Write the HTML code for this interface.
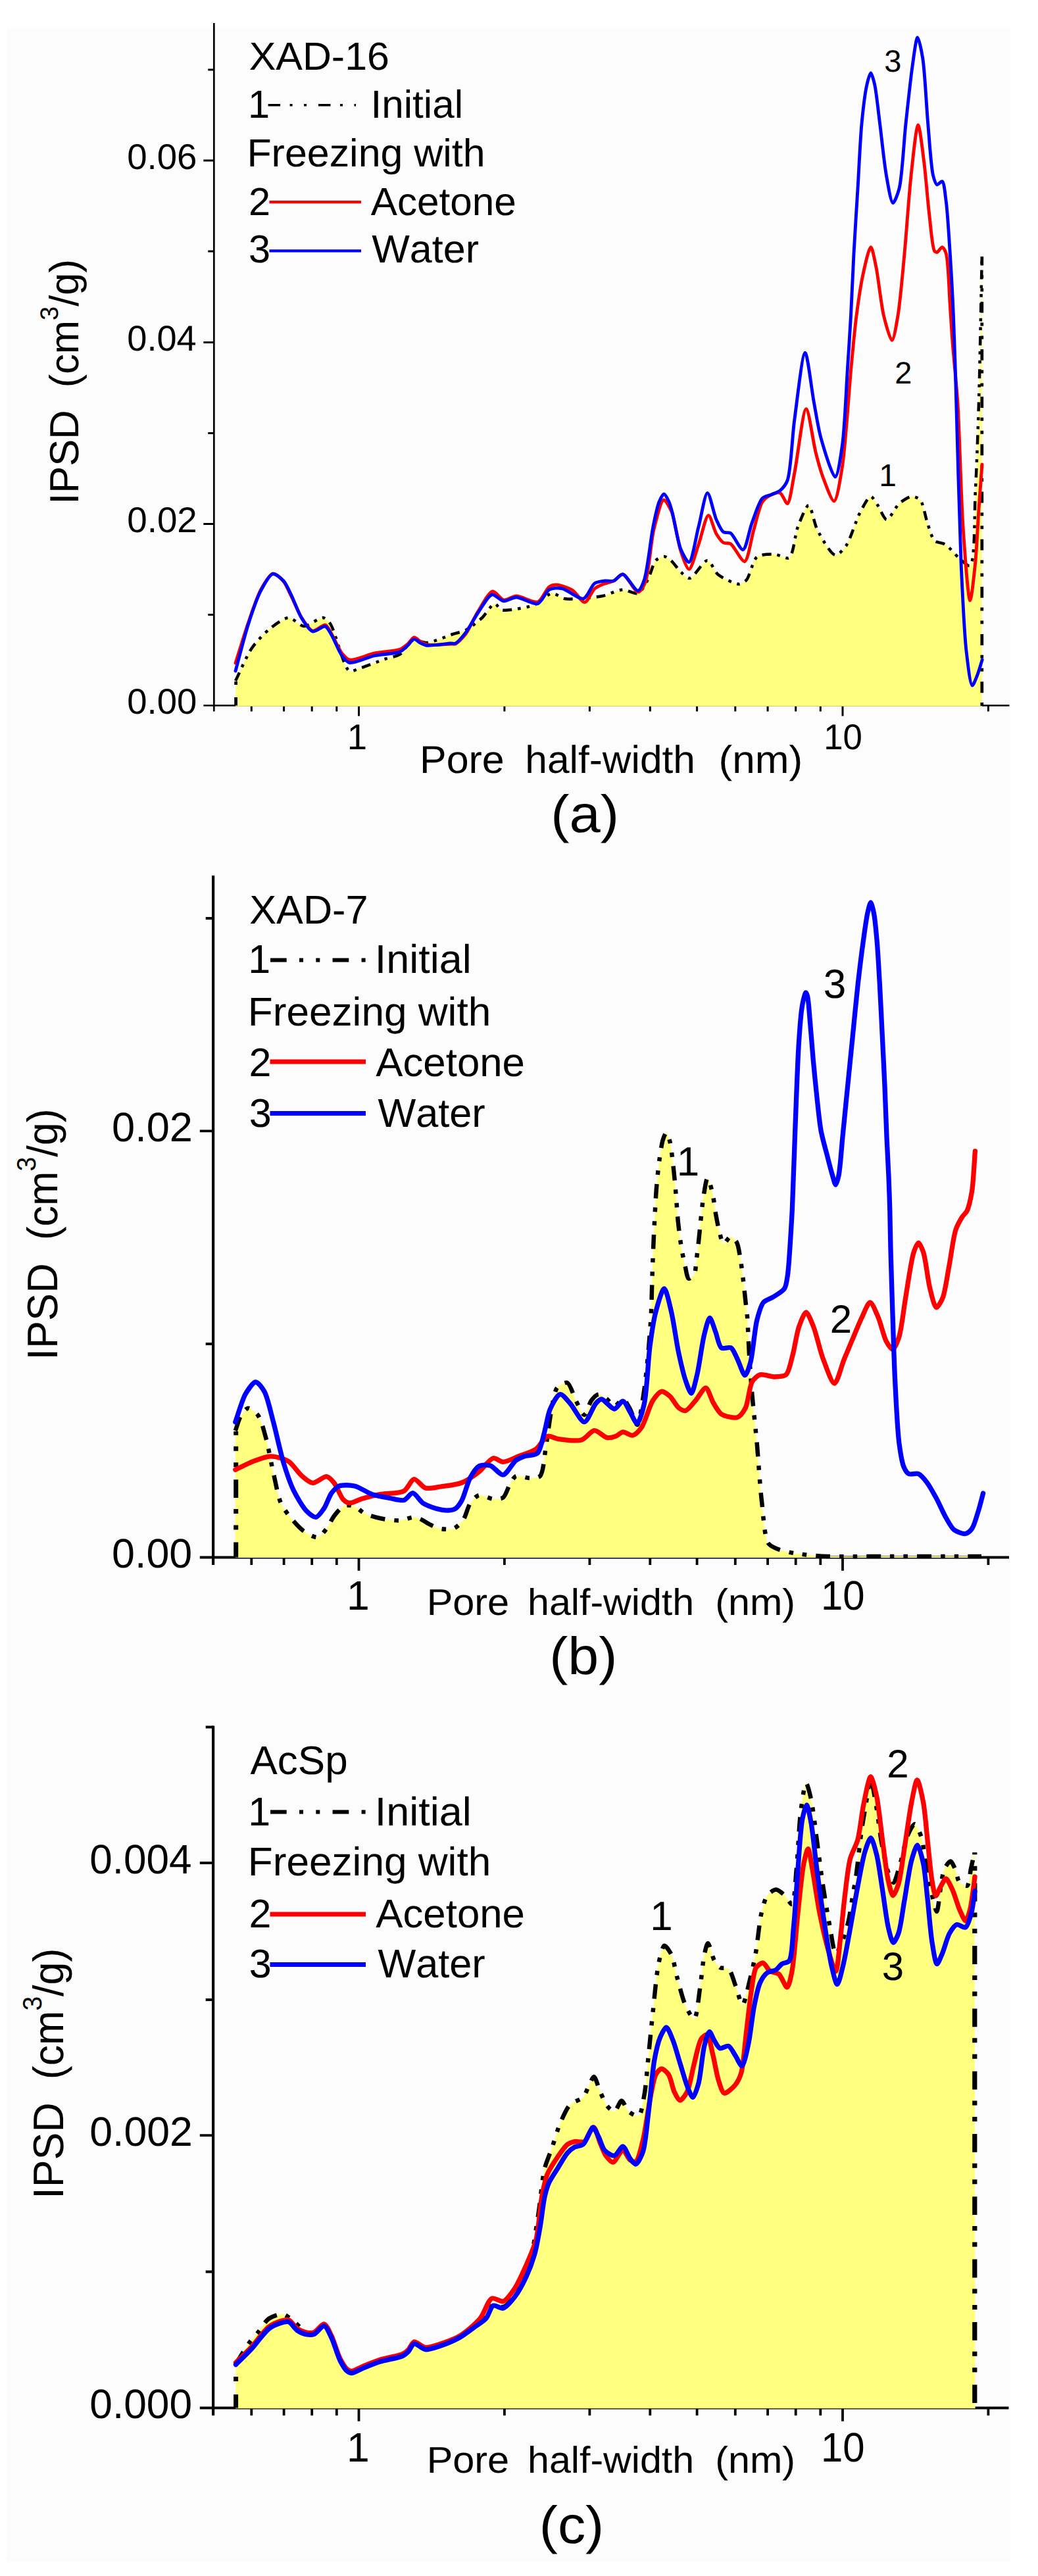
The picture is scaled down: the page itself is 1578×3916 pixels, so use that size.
<!DOCTYPE html>
<html lang="en"><head><meta charset="utf-8"><title>IPSD of polymer adsorbents</title>
<style>html,body{margin:0;padding:0;background:#fff}svg{display:block}text{font-kerning:none;text-rendering:geometricPrecision}</style></head>
<body>
<svg width="1578" height="3916" viewBox="0 0 1578 3916" font-family='"Liberation Sans", sans-serif' fill="#000">
<rect width="1578" height="3916" fill="#fff"/>
<rect x="10" y="43" width="1526" height="3851" fill="#fcfcfd"/>
<g stroke="#000" stroke-width="2.7" fill="none" stroke-linecap="butt">
<path d="M325.3 35.0 V1081.5"/>
<path d="M309.3 1072.5 H1534.5"/>
</g>
<path d="M309.3 796.5h16.0M309.3 520.5h16.0M309.3 244.0h16.0M316.3 934.5h9.0M316.3 658.5h9.0M316.3 382.0h9.0M316.3 106.0h9.0M545.5 1072.5v16.0M1281.0 1072.5v16.0M382.3 1072.5v9.0M431.6 1072.5v9.0M474.2 1072.5v9.0M511.8 1072.5v9.0M766.9 1072.5v9.0M896.4 1072.5v9.0M988.3 1072.5v9.0M1059.6 1072.5v9.0M1117.8 1072.5v9.0M1167.1 1072.5v9.0M1209.7 1072.5v9.0M1247.3 1072.5v9.0M1502.4 1072.5v9.0" stroke="#000" stroke-width="3.0" fill="none"/>
<path d="M358.0 1073.7 L358.0 1035.0C364.7 1021.7 375.3 996.1 383.0 985.0C389.5 975.7 402.2 962.3 410.0 956.0C417.2 950.2 431.7 939.1 439.0 939.0C445.5 938.9 455.4 951.7 462.0 952.0C469.2 952.3 485.3 938.2 491.0 939.0C494.8 939.5 499.0 943.9 502.0 948.0C509.1 957.7 522.3 1015.6 531.0 1020.0C535.0 1022.0 541.6 1017.6 546.6 1016.0C554.6 1013.5 576.0 1005.1 585.0 1002.0C591.9 999.7 602.5 998.2 608.0 994.7C614.0 990.9 621.5 975.6 627.5 973.5C632.9 971.6 643.3 977.6 650.0 977.0C659.0 976.2 679.9 966.8 688.5 964.0C694.6 962.0 702.7 960.7 708.0 958.0C714.5 954.6 727.0 944.5 733.0 939.0C738.7 933.7 747.7 917.8 752.0 917.6C755.0 917.5 758.8 925.7 762.0 927.0C765.4 928.3 772.2 927.5 777.0 927.0C784.4 926.2 803.6 923.1 812.0 919.6C820.0 916.3 832.3 902.6 839.0 902.0C844.4 901.5 852.6 908.9 858.0 910.0C863.7 911.2 874.2 910.4 881.0 910.0C889.4 909.5 907.1 907.9 916.0 906.0C924.5 904.2 939.0 896.7 946.7 896.4C953.3 896.2 964.9 903.9 970.0 902.0C975.2 900.0 981.5 887.3 985.0 881.0C988.8 874.1 992.6 856.5 997.0 852.0C999.9 848.9 1006.8 845.8 1010.0 846.0C1012.9 846.2 1017.3 849.7 1020.0 852.0C1023.9 855.3 1030.9 865.7 1035.0 869.5C1038.5 872.7 1044.5 879.4 1048.6 879.0C1054.8 878.5 1069.4 851.6 1075.5 852.0C1080.6 852.4 1085.9 868.9 1091.7 873.5C1098.4 878.8 1117.7 888.3 1124.0 888.0C1127.7 887.8 1132.2 884.6 1134.9 881.6C1139.7 876.3 1144.4 851.4 1151.0 846.5C1156.6 842.4 1171.2 842.4 1178.0 842.7C1184.1 843.0 1195.2 850.6 1199.6 848.0C1206.2 844.2 1208.6 811.9 1213.0 800.7C1216.8 791.0 1225.4 768.1 1229.3 768.3C1233.4 768.6 1237.7 796.3 1242.8 806.0C1248.3 816.5 1263.0 843.0 1269.7 843.8C1274.3 844.4 1282.0 835.5 1286.0 830.0C1292.5 821.1 1301.6 789.9 1307.5 779.0C1311.8 771.1 1319.7 755.0 1323.7 754.8C1326.8 754.7 1331.6 764.2 1334.5 768.3C1338.0 773.3 1343.9 789.7 1348.0 789.9C1352.5 790.1 1361.4 770.4 1366.9 765.6C1371.6 761.6 1381.0 755.1 1385.7 754.8C1389.5 754.5 1396.1 756.9 1399.0 760.0C1403.6 765.0 1406.9 786.6 1410.0 795.3C1412.7 803.0 1416.4 817.8 1420.8 822.0C1424.2 825.2 1432.7 824.9 1437.0 827.6C1442.8 831.2 1453.1 844.4 1458.6 849.0C1463.0 852.7 1471.4 861.6 1474.7 860.0C1482.7 856.2 1481.1 778.2 1482.8 746.7C1484.7 712.3 1486.8 652.2 1488.0 611.8C1489.6 560.0 1491.5 449.1 1492.8 390.0L1492.8 1073.7Z" fill="#ffff80" stroke="none"/>
<path d="M358.6 1072.5V1036.0" fill="none" stroke="#000" stroke-width="4.8" stroke-dasharray="12.5 19 5 100" stroke-dashoffset="0.0"/>
<path d="M1492.8 1073.0V390.0" fill="none" stroke="#000" stroke-width="4.7" stroke-dasharray="16.9 15.5 5 15 5 14.8" stroke-dashoffset="52.4"/>
<path d="M358.0 1035.0C364.7 1021.7 375.3 996.1 383.0 985.0C389.5 975.7 402.2 962.3 410.0 956.0C417.2 950.2 431.7 939.1 439.0 939.0C445.5 938.9 455.4 951.7 462.0 952.0C469.2 952.3 485.3 938.2 491.0 939.0C494.8 939.5 499.0 943.9 502.0 948.0C509.1 957.7 522.3 1015.6 531.0 1020.0C535.0 1022.0 541.6 1017.6 546.6 1016.0C554.6 1013.5 576.0 1005.1 585.0 1002.0C591.9 999.7 602.5 998.2 608.0 994.7C614.0 990.9 621.5 975.6 627.5 973.5C632.9 971.6 643.3 977.6 650.0 977.0C659.0 976.2 679.9 966.8 688.5 964.0C694.6 962.0 702.7 960.7 708.0 958.0C714.5 954.6 727.0 944.5 733.0 939.0C738.7 933.7 747.7 917.8 752.0 917.6C755.0 917.5 758.8 925.7 762.0 927.0C765.4 928.3 772.2 927.5 777.0 927.0C784.4 926.2 803.6 923.1 812.0 919.6C820.0 916.3 832.3 902.6 839.0 902.0C844.4 901.5 852.6 908.9 858.0 910.0C863.7 911.2 874.2 910.4 881.0 910.0C889.4 909.5 907.1 907.9 916.0 906.0C924.5 904.2 939.0 896.7 946.7 896.4C953.3 896.2 964.9 903.9 970.0 902.0C975.2 900.0 981.5 887.3 985.0 881.0C988.8 874.1 992.6 856.5 997.0 852.0C999.9 848.9 1006.8 845.8 1010.0 846.0C1012.9 846.2 1017.3 849.7 1020.0 852.0C1023.9 855.3 1030.9 865.7 1035.0 869.5C1038.5 872.7 1044.5 879.4 1048.6 879.0C1054.8 878.5 1069.4 851.6 1075.5 852.0C1080.6 852.4 1085.9 868.9 1091.7 873.5C1098.4 878.8 1117.7 888.3 1124.0 888.0C1127.7 887.8 1132.2 884.6 1134.9 881.6C1139.7 876.3 1144.4 851.4 1151.0 846.5C1156.6 842.4 1171.2 842.4 1178.0 842.7C1184.1 843.0 1195.2 850.6 1199.6 848.0C1206.2 844.2 1208.6 811.9 1213.0 800.7C1216.8 791.0 1225.4 768.1 1229.3 768.3C1233.4 768.6 1237.7 796.3 1242.8 806.0C1248.3 816.5 1263.0 843.0 1269.7 843.8C1274.3 844.4 1282.0 835.5 1286.0 830.0C1292.5 821.1 1301.6 789.9 1307.5 779.0C1311.8 771.1 1319.7 755.0 1323.7 754.8C1326.8 754.7 1331.6 764.2 1334.5 768.3C1338.0 773.3 1343.9 789.7 1348.0 789.9C1352.5 790.1 1361.4 770.4 1366.9 765.6C1371.6 761.6 1381.0 755.1 1385.7 754.8C1389.5 754.5 1396.1 756.9 1399.0 760.0C1403.6 765.0 1406.9 786.6 1410.0 795.3C1412.7 803.0 1416.4 817.8 1420.8 822.0C1424.2 825.2 1432.7 824.9 1437.0 827.6C1442.8 831.2 1453.1 844.4 1458.6 849.0C1463.0 852.7 1471.4 861.6 1474.7 860.0C1482.7 856.2 1481.1 778.2 1482.8 746.7C1484.7 712.3 1486.8 652.2 1488.0 611.8C1489.6 560.0 1491.5 449.1 1492.8 390.0" fill="none" stroke="#000" stroke-width="4.5" stroke-dasharray="14 9 4.6 9 4.6 9" stroke-linejoin="round"/>
<path d="M358.0 1008.0C363.1 992.0 371.7 963.3 377.0 948.0C381.9 933.8 390.4 907.9 396.3 897.0C400.8 888.8 409.6 872.8 414.8 872.0C419.0 871.4 427.4 879.8 431.0 884.0C435.0 888.6 439.4 899.6 442.6 906.0C446.5 913.7 453.3 930.6 458.0 938.0C462.1 944.5 470.0 957.8 475.3 959.0C479.9 960.1 490.7 948.9 494.6 950.0C498.1 951.0 501.5 959.5 504.2 964.0C508.0 970.3 515.3 987.5 519.7 993.0C522.7 996.7 526.9 1002.0 531.2 1003.0C538.2 1004.6 559.4 995.1 569.7 993.0C579.9 990.9 601.2 989.8 608.3 987.0C612.5 985.3 617.0 981.4 619.8 979.0C622.6 976.6 626.8 969.3 629.5 969.0C631.9 968.7 636.4 973.5 639.0 975.0C641.5 976.5 645.1 979.2 648.7 980.0C655.2 981.5 679.4 979.1 685.4 979.0C688.0 979.0 690.4 979.8 692.4 979.0C696.0 977.5 703.8 969.2 707.8 964.0C713.2 956.9 721.4 937.8 727.0 929.0C732.4 920.5 743.1 899.8 749.0 899.0C753.4 898.4 760.7 911.1 765.6 912.0C770.4 912.9 779.1 906.1 785.0 906.0C792.6 905.9 810.8 917.3 817.6 915.0C823.9 912.9 830.3 895.1 835.0 892.0C837.9 890.0 842.5 888.9 846.0 889.0C851.2 889.1 864.3 893.5 870.0 897.0C875.8 900.5 884.4 915.9 889.0 915.5C893.5 915.1 899.7 898.8 904.0 895.0C907.3 892.1 913.3 889.6 917.0 888.0C921.0 886.3 929.0 885.0 933.0 883.0C937.0 881.0 942.8 872.6 946.7 873.0C952.4 873.7 965.0 900.2 970.0 900.0C973.6 899.9 978.5 891.0 981.0 885.0C986.3 872.4 989.5 823.1 994.0 805.0C997.4 791.1 1004.6 760.6 1009.0 760.0C1012.0 759.6 1018.2 771.5 1021.0 778.0C1025.8 789.0 1030.7 825.3 1035.0 838.0C1038.0 846.9 1044.2 865.5 1047.5 865.4C1051.4 865.3 1058.2 838.1 1062.0 827.6C1066.1 816.3 1073.0 783.6 1077.0 783.4C1080.2 783.3 1085.4 805.6 1089.0 811.5C1091.7 816.0 1096.5 823.1 1099.8 825.0C1102.4 826.5 1107.6 824.9 1110.6 826.6C1115.9 829.7 1127.5 854.4 1132.0 853.5C1137.4 852.4 1142.0 818.3 1145.7 806.0C1149.2 794.2 1154.1 770.3 1159.0 763.0C1162.1 758.4 1168.8 753.8 1172.6 752.0C1176.0 750.4 1182.9 748.1 1186.0 749.4C1189.7 750.9 1194.5 766.1 1197.0 765.6C1200.9 764.9 1204.7 734.3 1207.7 719.7C1212.1 698.5 1220.8 621.7 1225.5 621.6C1229.4 621.5 1236.2 672.3 1240.0 687.4C1242.9 698.9 1247.2 715.2 1250.9 725.0C1254.7 735.0 1264.2 762.2 1268.0 761.8C1272.4 761.4 1277.6 726.8 1280.5 709.0C1285.3 679.2 1290.8 591.7 1294.0 558.0C1296.3 533.8 1299.4 499.7 1302.0 480.0C1304.3 462.3 1308.7 432.0 1312.0 417.0C1314.7 404.7 1321.0 375.6 1323.8 375.6C1326.2 375.6 1329.6 395.3 1331.7 405.0C1335.0 420.3 1339.5 463.6 1343.5 480.0C1346.4 491.8 1353.1 517.5 1356.0 517.4C1358.8 517.3 1362.9 492.3 1365.0 480.0C1368.3 460.6 1372.5 412.1 1375.0 385.5C1377.8 355.7 1381.9 295.2 1385.0 267.0C1387.5 244.2 1392.9 190.0 1395.7 190.0C1398.1 190.0 1402.7 230.5 1404.8 247.0C1407.3 266.3 1410.4 306.8 1412.7 326.0C1414.7 342.1 1417.2 376.8 1420.6 381.5C1421.5 382.8 1423.4 383.7 1424.5 383.5C1426.3 383.2 1430.6 375.4 1432.4 375.6C1434.3 375.8 1437.0 381.4 1438.3 385.5C1441.7 396.3 1442.9 445.3 1444.3 464.5C1445.4 480.6 1446.7 503.4 1448.0 520.0C1449.6 541.4 1454.0 582.9 1455.9 611.8C1458.6 653.2 1461.0 756.9 1464.0 800.7C1466.3 834.5 1471.8 912.8 1474.7 912.9C1476.8 912.9 1481.1 871.5 1482.8 854.6C1484.8 834.8 1486.6 794.3 1488.0 773.7C1489.3 754.8 1491.7 724.1 1493.0 706.0" fill="none" stroke="#ff0000" stroke-width="4.9" stroke-linejoin="round" stroke-linecap="round"/>
<path d="M358.0 1020.0C363.1 1001.4 371.5 967.5 377.0 950.4C381.8 935.4 390.4 909.6 396.3 898.4C400.8 889.9 409.5 873.5 414.8 872.5C418.9 871.7 427.4 879.1 431.0 883.0C435.0 887.3 439.4 897.6 442.6 904.0C446.6 912.0 453.2 930.9 458.0 938.8C462.1 945.5 470.0 958.6 475.3 960.0C479.9 961.2 490.7 951.1 494.6 952.3C498.1 953.3 501.5 961.3 504.2 965.8C508.1 972.2 515.3 990.7 519.7 996.6C522.7 1000.6 526.8 1006.3 531.2 1007.4C538.2 1009.1 559.4 998.8 569.7 996.6C579.9 994.4 601.3 993.9 608.3 990.8C612.6 988.9 616.9 983.8 619.8 981.2C622.6 978.7 626.8 971.9 629.5 971.6C631.9 971.3 636.4 976.1 639.0 977.4C641.5 978.7 645.2 980.7 648.7 981.2C655.3 982.1 679.4 978.3 685.4 978.0C688.0 977.9 690.4 978.9 692.4 978.0C696.0 976.5 703.7 967.2 707.8 962.0C713.0 955.3 721.5 938.8 727.0 931.0C732.3 923.4 742.1 905.2 748.0 904.0C752.5 903.1 760.7 913.3 765.6 913.8C770.5 914.3 779.2 908.0 785.0 908.0C792.6 908.0 810.8 919.7 817.6 917.6C823.7 915.7 829.6 899.3 835.0 896.4C839.5 894.0 848.4 893.5 854.0 894.5C861.8 895.8 880.2 911.7 887.0 910.0C893.1 908.5 898.9 890.2 904.0 886.8C907.8 884.2 915.7 883.5 919.7 883.0C923.4 882.6 929.6 884.1 933.0 883.0C936.8 881.7 942.7 872.6 946.7 873.0C952.3 873.5 965.4 898.6 970.0 898.0C973.5 897.6 977.2 887.5 979.5 881.0C984.2 867.7 989.4 817.4 993.0 800.0C995.4 788.2 999.1 770.0 1002.0 763.0C1003.8 758.7 1007.5 751.0 1009.5 751.0C1011.5 751.0 1015.4 759.5 1017.0 763.0C1018.8 766.9 1020.5 773.4 1022.0 779.0C1024.8 789.4 1030.4 824.2 1035.0 835.0C1037.9 841.9 1044.5 855.1 1047.5 854.6C1052.2 853.9 1058.2 814.9 1062.0 800.7C1065.7 786.9 1071.7 749.5 1075.5 749.4C1078.9 749.3 1085.1 781.3 1089.0 789.9C1091.8 796.1 1096.2 806.4 1099.8 808.8C1102.3 810.5 1107.7 808.7 1110.6 810.4C1115.6 813.4 1125.4 836.4 1129.5 835.7C1134.3 834.9 1139.0 805.8 1143.0 795.3C1146.9 785.0 1153.6 762.8 1159.0 757.5C1162.2 754.3 1169.0 753.6 1172.6 752.0C1176.2 750.4 1182.9 748.2 1186.0 745.6C1189.5 742.7 1194.6 736.7 1197.0 730.5C1202.4 716.7 1204.3 663.9 1207.7 638.8C1211.4 612.2 1219.7 536.3 1223.9 536.3C1227.6 536.3 1233.9 593.4 1237.4 611.8C1240.3 627.4 1243.9 651.2 1248.0 665.8C1252.4 681.4 1265.3 725.3 1269.7 725.0C1273.6 724.7 1278.2 692.5 1280.5 676.6C1284.1 652.0 1286.7 586.2 1288.6 557.9C1290.1 534.9 1292.3 501.8 1293.5 480.0C1294.8 456.0 1296.6 411.0 1298.0 385.5C1299.4 359.4 1302.4 313.0 1304.0 286.7C1305.6 260.4 1307.8 211.0 1310.0 188.0C1311.7 170.1 1315.3 139.8 1317.9 128.7C1319.3 122.5 1322.2 111.0 1323.8 111.0C1325.4 111.0 1328.3 122.5 1329.7 128.7C1332.3 139.8 1335.4 171.1 1337.6 188.0C1340.1 207.6 1344.3 249.4 1347.5 267.0C1349.8 279.9 1354.3 308.2 1357.4 308.5C1359.7 308.7 1364.9 294.8 1367.0 286.7C1371.4 270.1 1374.2 213.5 1377.0 188.0C1379.6 164.1 1384.2 120.3 1387.0 101.0C1389.0 87.2 1392.6 57.0 1394.9 56.9C1396.9 56.8 1401.0 78.0 1402.8 89.0C1405.9 108.1 1408.5 163.1 1410.7 188.0C1412.7 210.3 1415.4 254.7 1418.6 267.0C1420.0 272.3 1422.3 280.1 1424.5 280.8C1426.2 281.3 1430.7 275.0 1432.4 275.7C1435.4 277.0 1436.9 296.3 1438.3 306.5C1440.5 322.6 1442.9 363.5 1444.3 385.5C1445.9 409.6 1448.3 454.1 1449.4 480.0C1450.6 507.3 1451.9 550.5 1453.0 585.0C1454.8 640.3 1458.4 795.0 1461.0 854.6C1462.9 896.8 1465.8 961.9 1469.0 989.5C1471.0 1006.8 1474.9 1041.5 1478.0 1042.0C1479.8 1042.3 1483.6 1031.5 1485.5 1027.0C1487.8 1021.4 1491.1 1009.4 1493.2 1003.0" fill="none" stroke="#0000ff" stroke-width="4.9" stroke-linejoin="round" stroke-linecap="round"/>
<text transform="translate(193.27 256.50) scale(1.0005 1)" font-size="54.5">0.06</text>
<text transform="translate(193.29 533.00) scale(0.9927 1)" font-size="54.5">0.04</text>
<text transform="translate(193.26 809.00) scale(1.0039 1)" font-size="54.5">0.02</text>
<text transform="translate(193.28 1085.00) scale(0.9979 1)" font-size="54.5">0.00</text>
<text transform="translate(527.85 1139.00) scale(1.0000 1)" font-size="54.5">1</text>
<text transform="translate(1252.18 1139.00) scale(0.9680 1)" font-size="54.5">10</text>
<text transform="translate(638.00 1174.50) scale(1.0327 1)" font-size="59.0">Pore</text>
<text transform="translate(798.31 1174.50) scale(1.0242 1)" font-size="59.0">half-width</text>
<text transform="translate(1092.55 1174.50) scale(1.0523 1)" font-size="59.0">(nm)</text>
<text transform="translate(837.23 1264.80) scale(1.0620 1)" font-size="80.0">(a)</text>
<text transform="translate(119.10 766.87) rotate(-90) scale(0.9910 1)" font-size="62.0" xml:space="preserve" style="white-space:pre">IPSD  (cm<tspan font-size="38.4" dy="-31.0">3</tspan><tspan dy="31.0">/g)</tspan></text>
<text transform="translate(378.63 105.60) scale(1.0236 1)" font-size="59.5">XAD-16</text>
<text transform="translate(377.09 179.00) scale(1.0000 1)" font-size="59.5">1</text>
<path d="M407.6 159.7H541" stroke="#000" stroke-width="3.4" stroke-dasharray="18.5 14.5 4 17.5 4 17.9" fill="none"/>
<text transform="translate(563.44 179.00) scale(1.0121 1)" font-size="59.5">Initial</text>
<text transform="translate(375.40 253.00) scale(1.0238 1)" font-size="59.5">Freezing with</text>
<text transform="translate(377.90 326.70) scale(1.0000 1)" font-size="59.5">2</text>
<path d="M409.4 307.2H549" stroke="#f00" stroke-width="4.2"/>
<text transform="translate(563.78 326.70) scale(1.0127 1)" font-size="59.5">Acetone</text>
<text transform="translate(378.08 399.40) scale(1.0000 1)" font-size="59.5">3</text>
<path d="M409.4 381.4H549" stroke="#00f" stroke-width="4.2"/>
<text transform="translate(565.23 399.40) scale(1.0258 1)" font-size="59.5">Water</text>
<text transform="translate(1344.17 109.00) scale(1.0000 1)" font-size="47.0">3</text>
<text transform="translate(1360.13 583.20) scale(1.0000 1)" font-size="47.0">2</text>
<text transform="translate(1336.30 738.60) scale(1.0000 1)" font-size="48.0">1</text>
<g stroke="#000" stroke-width="4.2" fill="none" stroke-linecap="butt">
<path d="M324.1 1331.0 V2378.9"/>
<path d="M303.8 2367.5 H1534.0"/>
</g>
<path d="M303.8 1719.3h20.3M312.7 2043.0h11.4M312.7 1396.0h11.4M545.5 2367.5v20.3M1281.0 2367.5v20.3M382.3 2367.5v11.4M431.6 2367.5v11.4M474.2 2367.5v11.4M511.8 2367.5v11.4M766.9 2367.5v11.4M896.4 2367.5v11.4M988.3 2367.5v11.4M1059.6 2367.5v11.4M1117.8 2367.5v11.4M1167.1 2367.5v11.4M1209.7 2367.5v11.4M1247.3 2367.5v11.4M1502.4 2367.5v11.4" stroke="#000" stroke-width="3.8" fill="none"/>
<path d="M357.5 2367.9 L357.8 2175.0C359.9 2169.4 362.7 2158.8 365.5 2154.0C368.0 2149.8 373.5 2141.1 377.0 2140.7C380.7 2140.3 389.2 2147.5 392.5 2152.0C397.0 2158.1 401.2 2175.0 404.0 2185.0C407.5 2197.5 412.4 2225.2 415.6 2239.0C418.6 2251.8 422.6 2275.1 427.0 2285.0C430.4 2292.5 437.9 2302.3 442.6 2308.0C447.2 2313.7 456.1 2323.7 461.8 2327.6C467.0 2331.2 478.2 2337.9 483.0 2337.0C487.3 2336.2 493.3 2327.8 496.5 2323.7C500.0 2319.2 504.4 2309.1 508.0 2304.4C511.6 2299.8 518.9 2290.7 523.5 2289.0C527.3 2287.5 535.1 2288.4 539.0 2289.8C543.3 2291.3 549.3 2298.3 554.0 2300.6C559.4 2303.3 570.8 2306.6 577.5 2308.0C585.0 2309.6 600.4 2311.8 608.0 2311.4C614.7 2311.1 625.3 2305.6 631.4 2306.4C637.7 2307.2 649.2 2315.5 654.5 2318.0C658.3 2319.8 663.1 2322.5 667.0 2323.4C672.0 2324.5 684.0 2325.8 689.0 2324.0C693.8 2322.3 700.7 2315.5 704.0 2311.0C707.9 2305.6 711.3 2290.3 715.0 2285.0C718.0 2280.8 723.7 2274.1 728.0 2273.0C732.8 2271.8 744.4 2278.4 749.7 2278.7C754.1 2279.0 761.6 2278.9 764.9 2276.6C769.0 2273.7 772.7 2259.7 775.7 2255.0C778.0 2251.4 781.1 2245.3 784.4 2244.0C788.6 2242.3 800.8 2247.2 806.0 2247.0C810.4 2246.9 818.0 2247.1 821.0 2244.0C826.3 2238.7 827.8 2211.3 830.0 2198.5C832.5 2184.3 835.9 2154.9 838.6 2142.0C840.6 2132.1 842.7 2115.0 847.0 2109.7C850.1 2105.9 858.9 2100.8 862.4 2102.0C867.0 2103.6 871.8 2122.3 875.4 2129.0C878.7 2135.2 885.2 2151.0 888.4 2150.9C891.5 2150.8 895.6 2133.4 899.0 2129.0C901.6 2125.6 906.8 2119.9 910.0 2119.6C913.2 2119.3 919.8 2124.6 923.0 2127.0C926.2 2129.5 930.9 2137.8 934.0 2137.9C937.3 2138.0 943.9 2126.6 947.0 2127.0C950.3 2127.4 955.1 2137.4 957.8 2142.0C961.0 2147.5 966.1 2166.3 968.6 2166.0C972.3 2165.6 977.2 2126.8 979.5 2111.8C981.9 2095.9 984.6 2065.6 986.0 2050.0C987.3 2036.0 988.9 2014.3 989.7 2000.0C990.6 1983.4 991.2 1949.8 991.8 1933.0C992.3 1918.0 993.2 1895.3 993.9 1880.0C994.8 1861.9 996.6 1823.0 998.0 1806.0C999.0 1793.1 1001.0 1774.0 1002.4 1763.6C1003.6 1754.8 1005.8 1739.0 1007.7 1733.0C1008.9 1729.2 1011.6 1722.0 1013.0 1722.0C1014.5 1722.0 1017.1 1730.8 1018.3 1735.0C1020.0 1741.1 1021.5 1755.2 1022.5 1763.6C1023.8 1773.8 1025.7 1794.1 1026.8 1806.0C1028.0 1819.3 1029.6 1845.9 1031.0 1859.0C1032.2 1870.4 1034.7 1889.5 1036.3 1899.0C1037.6 1906.6 1040.1 1918.4 1041.6 1924.7C1042.9 1930.2 1044.5 1942.9 1046.9 1943.7C1048.6 1944.3 1053.8 1940.0 1055.4 1937.4C1057.7 1933.6 1057.8 1921.9 1058.6 1916.0C1059.5 1909.6 1060.9 1897.9 1061.7 1890.8C1062.6 1882.8 1064.0 1867.9 1064.9 1859.0C1065.9 1849.3 1067.7 1830.3 1069.2 1820.8C1070.6 1812.3 1073.5 1791.1 1075.5 1791.0C1077.2 1790.9 1081.3 1805.9 1082.9 1812.3C1084.9 1820.2 1086.7 1837.6 1088.2 1846.0C1089.5 1853.3 1091.8 1865.4 1093.5 1871.7C1095.0 1877.2 1097.4 1890.2 1099.9 1890.8C1102.1 1891.3 1107.7 1880.1 1110.5 1880.0C1113.1 1879.9 1118.1 1885.3 1120.0 1888.6C1122.6 1893.0 1124.1 1905.3 1125.3 1912.0C1126.7 1919.8 1128.5 1934.8 1129.6 1943.7C1130.8 1953.4 1132.9 1973.7 1133.8 1982.0C1134.4 1987.7 1135.4 1993.8 1135.9 2000.0C1136.9 2011.3 1138.0 2044.0 1139.0 2060.0C1140.0 2076.0 1142.0 2103.2 1143.4 2120.0C1145.0 2138.7 1148.8 2173.4 1150.7 2194.0C1152.7 2216.4 1155.4 2260.4 1158.0 2282.0C1160.2 2300.5 1162.0 2337.1 1167.9 2346.0C1171.0 2350.6 1178.1 2353.1 1182.7 2355.0C1188.2 2357.3 1199.7 2359.7 1207.0 2361.0C1216.2 2362.7 1233.5 2364.7 1246.5 2365.5C1267.6 2366.7 1320.2 2365.9 1350.0 2366.0C1384.9 2366.1 1454.1 2366.0 1492.0 2366.0L1492.0 2367.9Z" fill="#ffff80" stroke="none"/>
<path d="M358.7 2367.5V2176.0" fill="none" stroke="#000" stroke-width="7.0" stroke-dasharray="27.8 19 7 17.5 7 17" stroke-dashoffset="4.8"/>
<path d="M357.8 2175.0C359.9 2169.4 362.7 2158.8 365.5 2154.0C368.0 2149.8 373.5 2141.1 377.0 2140.7C380.7 2140.3 389.2 2147.5 392.5 2152.0C397.0 2158.1 401.2 2175.0 404.0 2185.0C407.5 2197.5 412.4 2225.2 415.6 2239.0C418.6 2251.8 422.6 2275.1 427.0 2285.0C430.4 2292.5 437.9 2302.3 442.6 2308.0C447.2 2313.7 456.1 2323.7 461.8 2327.6C467.0 2331.2 478.2 2337.9 483.0 2337.0C487.3 2336.2 493.3 2327.8 496.5 2323.7C500.0 2319.2 504.4 2309.1 508.0 2304.4C511.6 2299.8 518.9 2290.7 523.5 2289.0C527.3 2287.5 535.1 2288.4 539.0 2289.8C543.3 2291.3 549.3 2298.3 554.0 2300.6C559.4 2303.3 570.8 2306.6 577.5 2308.0C585.0 2309.6 600.4 2311.8 608.0 2311.4C614.7 2311.1 625.3 2305.6 631.4 2306.4C637.7 2307.2 649.2 2315.5 654.5 2318.0C658.3 2319.8 663.1 2322.5 667.0 2323.4C672.0 2324.5 684.0 2325.8 689.0 2324.0C693.8 2322.3 700.7 2315.5 704.0 2311.0C707.9 2305.6 711.3 2290.3 715.0 2285.0C718.0 2280.8 723.7 2274.1 728.0 2273.0C732.8 2271.8 744.4 2278.4 749.7 2278.7C754.1 2279.0 761.6 2278.9 764.9 2276.6C769.0 2273.7 772.7 2259.7 775.7 2255.0C778.0 2251.4 781.1 2245.3 784.4 2244.0C788.6 2242.3 800.8 2247.2 806.0 2247.0C810.4 2246.9 818.0 2247.1 821.0 2244.0C826.3 2238.7 827.8 2211.3 830.0 2198.5C832.5 2184.3 835.9 2154.9 838.6 2142.0C840.6 2132.1 842.7 2115.0 847.0 2109.7C850.1 2105.9 858.9 2100.8 862.4 2102.0C867.0 2103.6 871.8 2122.3 875.4 2129.0C878.7 2135.2 885.2 2151.0 888.4 2150.9C891.5 2150.8 895.6 2133.4 899.0 2129.0C901.6 2125.6 906.8 2119.9 910.0 2119.6C913.2 2119.3 919.8 2124.6 923.0 2127.0C926.2 2129.5 930.9 2137.8 934.0 2137.9C937.3 2138.0 943.9 2126.6 947.0 2127.0C950.3 2127.4 955.1 2137.4 957.8 2142.0C961.0 2147.5 966.1 2166.3 968.6 2166.0C972.3 2165.6 977.2 2126.8 979.5 2111.8C981.9 2095.9 984.6 2065.6 986.0 2050.0C987.3 2036.0 988.9 2014.3 989.7 2000.0C990.6 1983.4 991.2 1949.8 991.8 1933.0C992.3 1918.0 993.2 1895.3 993.9 1880.0C994.8 1861.9 996.6 1823.0 998.0 1806.0C999.0 1793.1 1001.0 1774.0 1002.4 1763.6C1003.6 1754.8 1005.8 1739.0 1007.7 1733.0C1008.9 1729.2 1011.6 1722.0 1013.0 1722.0C1014.5 1722.0 1017.1 1730.8 1018.3 1735.0C1020.0 1741.1 1021.5 1755.2 1022.5 1763.6C1023.8 1773.8 1025.7 1794.1 1026.8 1806.0C1028.0 1819.3 1029.6 1845.9 1031.0 1859.0C1032.2 1870.4 1034.7 1889.5 1036.3 1899.0C1037.6 1906.6 1040.1 1918.4 1041.6 1924.7C1042.9 1930.2 1044.5 1942.9 1046.9 1943.7C1048.6 1944.3 1053.8 1940.0 1055.4 1937.4C1057.7 1933.6 1057.8 1921.9 1058.6 1916.0C1059.5 1909.6 1060.9 1897.9 1061.7 1890.8C1062.6 1882.8 1064.0 1867.9 1064.9 1859.0C1065.9 1849.3 1067.7 1830.3 1069.2 1820.8C1070.6 1812.3 1073.5 1791.1 1075.5 1791.0C1077.2 1790.9 1081.3 1805.9 1082.9 1812.3C1084.9 1820.2 1086.7 1837.6 1088.2 1846.0C1089.5 1853.3 1091.8 1865.4 1093.5 1871.7C1095.0 1877.2 1097.4 1890.2 1099.9 1890.8C1102.1 1891.3 1107.7 1880.1 1110.5 1880.0C1113.1 1879.9 1118.1 1885.3 1120.0 1888.6C1122.6 1893.0 1124.1 1905.3 1125.3 1912.0C1126.7 1919.8 1128.5 1934.8 1129.6 1943.7C1130.8 1953.4 1132.9 1973.7 1133.8 1982.0C1134.4 1987.7 1135.4 1993.8 1135.9 2000.0C1136.9 2011.3 1138.0 2044.0 1139.0 2060.0C1140.0 2076.0 1142.0 2103.2 1143.4 2120.0C1145.0 2138.7 1148.8 2173.4 1150.7 2194.0C1152.7 2216.4 1155.4 2260.4 1158.0 2282.0C1160.2 2300.5 1162.0 2337.1 1167.9 2346.0C1171.0 2350.6 1178.1 2353.1 1182.7 2355.0C1188.2 2357.3 1199.7 2359.7 1207.0 2361.0C1216.2 2362.7 1233.5 2364.7 1246.5 2365.5C1267.6 2366.7 1320.2 2365.9 1350.0 2366.0C1384.9 2366.1 1454.1 2366.0 1492.0 2366.0" fill="none" stroke="#000" stroke-width="6.5" stroke-dasharray="22 14 6.5 14 6.5 14" stroke-linejoin="round"/>
<path d="M357.8 2234.3C365.0 2230.9 377.5 2224.3 384.8 2221.6C391.9 2218.9 404.6 2213.9 411.8 2213.9C419.0 2213.9 432.6 2217.8 438.7 2221.6C444.9 2225.5 452.7 2238.3 458.0 2242.8C462.5 2246.7 470.3 2253.9 475.3 2254.3C480.6 2254.7 491.9 2244.1 496.5 2244.7C500.2 2245.2 505.1 2250.8 508.0 2254.3C512.0 2259.2 517.7 2275.4 521.6 2279.4C524.0 2281.9 528.1 2284.7 531.2 2285.0C535.4 2285.4 544.9 2279.9 550.5 2278.2C557.1 2276.3 569.7 2273.2 577.5 2271.7C586.5 2270.0 606.8 2270.6 614.0 2266.7C619.8 2263.5 625.0 2249.1 629.5 2248.6C633.8 2248.2 641.5 2260.4 646.8 2262.0C652.3 2263.6 663.3 2260.9 670.0 2260.0C677.9 2258.9 694.2 2257.1 702.0 2254.0C709.6 2251.0 721.6 2242.6 728.0 2237.6C734.3 2232.7 744.1 2218.0 749.7 2216.8C753.8 2215.9 760.4 2222.4 764.9 2222.4C770.5 2222.4 782.2 2216.2 788.7 2213.7C795.5 2211.1 808.9 2207.2 814.7 2203.0C820.3 2199.0 826.8 2185.0 832.0 2183.4C836.3 2182.1 843.9 2186.9 849.4 2187.7C857.0 2188.8 876.4 2191.3 884.0 2189.0C890.4 2187.1 898.3 2175.0 903.6 2174.7C908.7 2174.4 918.2 2184.7 923.0 2185.5C926.7 2186.1 932.8 2184.6 936.0 2183.4C939.2 2182.3 943.8 2177.2 947.0 2176.9C950.6 2176.5 958.3 2182.7 962.0 2182.0C965.8 2181.2 971.7 2174.9 975.0 2170.4C980.2 2163.1 987.4 2136.8 992.5 2129.0C995.8 2124.0 1001.8 2115.8 1005.5 2115.3C1008.8 2114.8 1015.3 2119.9 1018.5 2122.7C1022.4 2126.1 1027.8 2137.1 1031.5 2140.0C1034.2 2142.1 1039.4 2145.0 1042.3 2144.4C1046.3 2143.6 1053.5 2133.4 1057.5 2129.0C1061.7 2124.3 1069.4 2109.6 1073.0 2110.0C1076.6 2110.4 1081.1 2127.0 1084.4 2132.5C1087.4 2137.5 1092.1 2146.7 1096.7 2149.7C1101.7 2152.9 1116.0 2156.3 1121.0 2154.6C1125.5 2153.1 1130.8 2145.2 1133.5 2139.9C1137.4 2132.3 1139.2 2107.4 1143.4 2100.6C1146.0 2096.3 1151.5 2091.0 1155.6 2089.8C1160.4 2088.4 1172.2 2093.1 1177.7 2093.0C1182.6 2092.9 1191.5 2092.8 1195.0 2089.8C1199.6 2085.8 1202.4 2069.6 1204.8 2061.0C1207.7 2050.6 1211.2 2026.6 1214.6 2017.0C1217.1 2010.0 1222.5 1995.0 1225.4 1995.0C1228.4 1995.0 1233.8 2009.8 1236.7 2017.0C1240.9 2027.3 1246.8 2054.0 1251.4 2066.0C1255.5 2076.7 1264.3 2103.1 1268.6 2103.0C1272.8 2102.9 1279.6 2075.3 1283.4 2066.0C1286.8 2057.7 1292.3 2044.8 1295.7 2036.7C1299.4 2027.9 1306.4 2010.4 1310.4 2002.3C1313.7 1995.6 1319.4 1980.0 1322.7 1980.0C1326.0 1980.0 1332.0 1995.5 1335.0 2002.3C1338.7 2010.7 1343.5 2032.0 1347.3 2039.0C1349.7 2043.4 1354.6 2051.6 1357.0 2051.4C1359.9 2051.1 1364.7 2038.7 1366.9 2031.8C1370.6 2020.5 1373.9 1989.1 1376.7 1972.8C1379.7 1955.1 1385.2 1915.4 1389.0 1904.0C1390.8 1898.5 1394.4 1889.3 1396.4 1889.3C1398.4 1889.3 1402.0 1898.7 1403.8 1904.0C1407.1 1913.7 1410.5 1945.8 1413.6 1958.0C1415.9 1967.2 1420.3 1987.2 1423.4 1987.6C1425.7 1987.9 1431.0 1978.2 1433.2 1972.8C1436.9 1963.8 1440.4 1937.1 1443.0 1923.7C1445.7 1909.7 1449.3 1880.4 1452.9 1869.7C1455.1 1862.9 1460.1 1854.2 1462.7 1850.0C1464.6 1847.0 1468.3 1844.2 1470.0 1840.8C1472.7 1835.3 1475.9 1820.7 1477.5 1811.3C1479.7 1798.0 1481.1 1766.3 1482.4 1750.0" fill="none" stroke="#ff0000" stroke-width="7.3" stroke-linejoin="round" stroke-linecap="round"/>
<path d="M357.8 2161.8C361.9 2150.5 368.0 2128.2 373.0 2119.5C376.7 2113.2 384.6 2101.1 388.6 2101.0C392.3 2100.9 398.9 2110.1 402.0 2115.6C406.8 2124.1 412.0 2148.6 415.6 2161.8C419.7 2177.0 426.5 2208.7 431.0 2223.5C434.8 2236.0 441.4 2255.7 446.4 2265.9C450.9 2275.0 460.3 2291.1 465.7 2296.7C469.5 2300.6 476.7 2306.8 480.3 2306.4C483.9 2306.0 489.7 2297.2 492.7 2292.9C496.2 2287.8 500.4 2274.5 504.0 2269.7C506.8 2266.0 511.8 2260.6 515.8 2259.0C520.7 2257.1 532.7 2257.6 539.0 2259.0C546.1 2260.6 558.6 2269.2 565.9 2271.7C573.0 2274.1 586.1 2276.3 592.9 2277.5C598.9 2278.6 609.2 2281.8 614.0 2280.5C618.3 2279.3 624.0 2269.5 627.6 2269.7C631.7 2269.9 638.3 2281.9 643.0 2285.0C647.5 2288.0 656.8 2291.4 662.0 2292.9C667.1 2294.3 677.0 2296.2 681.5 2296.0C685.0 2295.8 690.4 2294.7 693.0 2292.9C695.9 2290.9 699.7 2285.2 702.0 2281.0C705.7 2274.3 710.9 2253.4 715.0 2246.0C718.1 2240.4 723.7 2231.3 728.0 2229.0C731.9 2226.9 740.9 2226.7 745.4 2228.0C750.7 2229.5 759.9 2242.6 764.9 2242.0C770.4 2241.4 779.3 2223.8 784.4 2220.0C787.9 2217.3 793.5 2215.1 797.4 2213.7C802.0 2212.1 813.0 2212.9 816.9 2209.4C822.0 2204.8 825.1 2185.8 827.7 2176.9C830.3 2167.8 832.8 2150.0 836.4 2142.0C839.5 2135.1 847.2 2120.1 851.6 2119.6C855.4 2119.2 862.6 2128.9 866.8 2133.5C872.3 2139.5 883.1 2162.0 888.4 2161.7C893.5 2161.4 901.6 2138.2 905.8 2133.5C908.2 2130.8 911.6 2127.0 914.4 2127.0C918.6 2127.0 929.4 2142.2 934.0 2142.0C937.9 2141.8 943.9 2129.6 947.0 2130.0C950.3 2130.4 954.9 2142.0 957.8 2146.5C960.7 2151.1 966.0 2164.2 968.6 2163.9C971.9 2163.5 977.2 2143.9 979.5 2133.5C983.3 2116.5 985.3 2066.9 988.0 2046.8C990.1 2031.1 993.5 2007.2 996.8 1994.8C999.6 1984.2 1006.6 1958.9 1009.8 1959.0C1013.0 1959.1 1018.1 1983.9 1020.7 1994.8C1024.1 2008.8 1028.3 2040.7 1031.5 2055.5C1034.2 2068.1 1039.1 2089.7 1042.3 2098.8C1044.5 2105.1 1048.8 2118.1 1051.0 2118.0C1053.5 2117.8 1057.5 2099.0 1059.7 2090.0C1062.9 2077.0 1067.3 2042.2 1070.5 2029.5C1072.6 2021.0 1076.6 2003.6 1079.0 2003.5C1081.2 2003.4 1085.6 2019.1 1087.9 2025.0C1090.3 2031.2 1092.7 2046.2 1096.7 2049.0C1099.7 2051.1 1108.3 2047.2 1111.4 2049.0C1115.0 2051.1 1118.4 2061.0 1121.0 2066.0C1124.0 2071.9 1129.7 2090.7 1132.5 2090.7C1135.0 2090.7 1138.9 2077.9 1140.9 2071.0C1144.3 2059.0 1147.3 2020.3 1150.7 2007.0C1153.0 1998.1 1156.5 1984.7 1160.5 1980.0C1163.6 1976.4 1171.0 1974.5 1175.0 1971.9C1179.5 1969.0 1189.5 1963.5 1192.5 1959.0C1195.4 1954.5 1196.3 1945.5 1197.4 1938.4C1199.3 1926.1 1201.3 1889.0 1202.3 1874.6C1203.0 1864.0 1203.7 1852.2 1204.3 1840.0C1205.4 1816.3 1207.8 1742.7 1209.1 1708.8C1210.4 1676.8 1212.4 1618.0 1214.0 1592.3C1215.1 1574.1 1217.2 1545.3 1218.8 1534.0C1219.7 1527.4 1221.6 1518.3 1222.7 1514.7C1223.3 1512.7 1224.4 1509.0 1225.0 1509.0C1225.7 1509.0 1227.0 1512.4 1227.6 1514.7C1229.1 1520.4 1230.5 1542.1 1231.5 1553.5C1232.8 1567.4 1234.9 1596.2 1236.3 1611.7C1237.7 1627.2 1240.5 1655.2 1242.1 1670.0C1243.6 1683.5 1245.8 1706.4 1248.0 1718.5C1250.0 1729.5 1255.2 1747.7 1257.7 1757.3C1259.8 1765.6 1263.5 1780.0 1265.4 1786.4C1266.8 1791.0 1269.0 1801.0 1270.3 1801.0C1271.6 1801.0 1274.0 1791.7 1275.1 1786.4C1277.3 1776.1 1279.3 1744.8 1281.0 1728.2C1282.9 1709.0 1286.6 1671.3 1288.7 1650.6C1290.8 1629.9 1294.4 1593.6 1296.5 1572.9C1298.6 1552.2 1302.1 1514.8 1304.3 1495.3C1306.3 1477.8 1309.9 1448.4 1312.0 1433.2C1313.8 1420.3 1316.8 1397.5 1318.8 1388.5C1320.0 1383.0 1322.4 1372.0 1323.7 1372.0C1325.0 1372.0 1327.4 1383.0 1328.5 1388.5C1330.3 1397.5 1332.3 1420.3 1333.4 1433.2C1334.7 1448.4 1336.3 1477.8 1337.3 1495.3C1338.4 1514.8 1340.2 1552.2 1341.2 1572.9C1342.2 1593.6 1344.1 1629.9 1345.0 1650.6C1345.9 1671.3 1347.2 1709.0 1348.0 1728.2C1348.7 1744.8 1350.3 1771.2 1350.9 1786.4C1351.5 1801.0 1352.4 1825.4 1352.8 1840.0C1353.2 1855.4 1353.5 1881.3 1354.0 1899.0C1354.6 1921.9 1356.1 1971.2 1357.0 1997.4C1357.9 2023.6 1359.2 2069.5 1360.5 2095.7C1361.8 2121.9 1364.3 2174.2 1366.9 2194.0C1368.5 2206.2 1371.4 2224.3 1374.3 2230.8C1375.9 2234.5 1378.9 2239.2 1381.6 2240.6C1384.6 2242.1 1392.9 2239.1 1396.4 2240.6C1400.2 2242.2 1405.5 2248.8 1408.7 2252.9C1412.8 2258.1 1419.6 2270.6 1423.4 2277.5C1427.5 2284.9 1434.0 2300.1 1438.0 2307.0C1441.3 2312.6 1446.2 2322.3 1450.4 2325.6C1454.2 2328.5 1463.8 2332.1 1467.6 2331.5C1470.8 2331.0 1475.2 2327.1 1477.5 2324.0C1481.0 2319.3 1485.0 2304.2 1487.3 2297.0C1489.6 2289.8 1492.7 2277.2 1494.6 2270.0" fill="none" stroke="#0000ff" stroke-width="7.3" stroke-linejoin="round" stroke-linecap="round"/>
<text transform="translate(170.03 1734.50) scale(1.0107 1)" font-size="62.5">0.02</text>
<text transform="translate(170.05 2382.50) scale(1.0046 1)" font-size="62.5">0.00</text>
<text transform="translate(526.92 2447.00) scale(1.0000 1)" font-size="62.5">1</text>
<text transform="translate(1247.94 2447.00) scale(0.9580 1)" font-size="62.5">10</text>
<text transform="translate(648.63 2455.20) scale(1.0517 1)" font-size="56.5">Pore</text>
<text transform="translate(802.10 2455.20) scale(1.0464 1)" font-size="56.5">half-width</text>
<text transform="translate(1087.23 2455.20) scale(1.0485 1)" font-size="56.5">(nm)</text>
<text transform="translate(835.17 2545.00) scale(1.0541 1)" font-size="80.0">(b)</text>
<text transform="translate(86.90 2067.41) rotate(-90) scale(0.9692 1)" font-size="65.0" xml:space="preserve" style="white-space:pre">IPSD  (cm<tspan font-size="40.3" dy="-32.5">3</tspan><tspan dy="32.5">/g)</tspan></text>
<text transform="translate(379.22 1403.80) scale(1.0038 1)" font-size="61.0">XAD-7</text>
<text transform="translate(377.20 1479.30) scale(1.0000 1)" font-size="61.0">1</text>
<path d="M411 1459.4H556" stroke="#000" stroke-width="6" stroke-dasharray="24.7 19.3 6 19.3 6 19.3" fill="none"/>
<text transform="translate(569.79 1479.30) scale(1.0317 1)" font-size="61.0">Initial</text>
<text transform="translate(376.80 1558.60) scale(1.0184 1)" font-size="61.0">Freezing with</text>
<text transform="translate(378.54 1635.70) scale(1.0000 1)" font-size="61.0">2</text>
<path d="M410.5 1614H556" stroke="#f00" stroke-width="7"/>
<text transform="translate(571.28 1635.70) scale(1.0126 1)" font-size="61.0">Acetone</text>
<text transform="translate(378.72 1712.50) scale(1.0000 1)" font-size="61.0">3</text>
<path d="M410.5 1692.5H556" stroke="#00f" stroke-width="7"/>
<text transform="translate(574.43 1712.50) scale(1.0037 1)" font-size="61.0">Water</text>
<text transform="translate(1028.81 1786.50) scale(1.0000 1)" font-size="62.0">1</text>
<text transform="translate(1261.67 2026.00) scale(1.0000 1)" font-size="60.0">2</text>
<text transform="translate(1251.64 1516.50) scale(1.0000 1)" font-size="62.0">3</text>
<g stroke="#000" stroke-width="4.2" fill="none" stroke-linecap="butt">
<path d="M324.1 2623.5 V3671.9"/>
<path d="M303.8 3660.5 H1533.5"/>
</g>
<path d="M303.8 3246.2h20.3M303.8 2832.0h20.3M312.7 3453.5h11.4M312.7 3040.0h11.4M312.7 2625.5h11.4M545.5 3660.5v20.3M1281.0 3660.5v20.3M382.3 3660.5v11.4M431.6 3660.5v11.4M474.2 3660.5v11.4M511.8 3660.5v11.4M766.9 3660.5v11.4M896.4 3660.5v11.4M988.3 3660.5v11.4M1059.6 3660.5v11.4M1117.8 3660.5v11.4M1167.1 3660.5v11.4M1209.7 3660.5v11.4M1247.3 3660.5v11.4M1502.4 3660.5v11.4" stroke="#000" stroke-width="3.8" fill="none"/>
<path d="M358.0 3661.3 L358.5 3594.0C361.6 3588.9 367.0 3579.7 370.0 3575.0C372.7 3570.7 377.0 3563.9 380.0 3560.0C383.1 3555.9 389.4 3549.2 393.0 3544.8C397.0 3539.9 403.3 3528.6 408.4 3525.0C413.3 3521.6 424.6 3517.2 430.0 3518.0C435.6 3518.8 444.6 3527.9 449.6 3531.8C454.5 3535.6 462.5 3545.5 466.9 3547.0C469.9 3548.0 474.8 3547.4 477.7 3546.3C481.6 3544.8 489.4 3533.4 492.9 3534.0C496.4 3534.6 501.0 3545.9 503.8 3551.5C507.5 3559.0 513.1 3578.6 516.8 3586.0C519.5 3591.4 524.7 3600.1 527.6 3602.6C529.3 3604.1 531.9 3605.6 534.0 3605.7C537.5 3605.8 546.3 3600.4 551.4 3598.3C557.6 3595.8 570.0 3590.7 577.5 3588.3C586.0 3585.6 606.0 3582.5 612.0 3579.6C615.3 3578.0 618.6 3575.2 620.8 3573.0C623.3 3570.4 626.4 3561.8 629.5 3561.0C633.1 3560.1 641.8 3569.1 646.8 3569.7C652.2 3570.3 662.3 3566.5 668.5 3564.5C676.0 3562.0 691.5 3555.6 698.8 3551.5C705.5 3547.7 716.1 3539.5 721.7 3535.4C726.7 3531.8 735.3 3526.7 739.0 3522.4C742.8 3518.0 746.0 3504.6 749.9 3502.9C753.2 3501.5 761.1 3508.0 765.0 3507.0C769.9 3505.7 778.2 3495.7 782.4 3489.9C787.7 3482.6 796.1 3463.9 799.7 3455.0C802.8 3447.2 806.3 3436.0 808.4 3426.9C811.6 3413.2 816.4 3379.2 819.0 3361.8C821.6 3344.5 824.5 3310.7 827.9 3296.8C830.3 3287.0 835.7 3275.1 838.7 3266.5C842.1 3256.8 847.6 3236.9 851.7 3227.5C855.3 3219.1 861.6 3204.3 866.9 3199.0C871.3 3194.6 882.6 3192.3 886.4 3188.4C889.9 3184.7 892.7 3175.4 895.0 3171.0C897.1 3167.0 900.8 3156.9 902.9 3157.0C905.5 3157.2 909.7 3173.8 912.4 3179.8C915.1 3185.7 919.6 3197.2 923.0 3201.4C925.6 3204.6 931.3 3210.4 934.0 3210.0C937.2 3209.5 942.1 3193.6 945.0 3193.6C947.9 3193.6 952.1 3206.9 955.8 3210.0C959.2 3212.8 968.0 3218.1 971.0 3216.6C975.3 3214.5 977.7 3194.1 979.6 3184.0C982.1 3170.4 984.3 3139.8 986.0 3123.4C987.8 3106.4 990.6 3076.3 992.6 3058.4C994.7 3039.4 998.1 2999.4 1001.3 2984.7C1003.3 2975.6 1006.9 2958.3 1010.0 2957.8C1012.4 2957.4 1018.4 2966.8 1020.8 2971.7C1024.2 2978.6 1026.8 2996.7 1029.5 3006.4C1032.5 3017.3 1038.2 3040.7 1042.5 3049.7C1045.6 3056.2 1052.8 3069.6 1055.5 3069.0C1059.3 3068.2 1062.0 3036.2 1064.0 3023.7C1066.1 3010.3 1068.5 2981.8 1070.7 2971.7C1072.0 2965.7 1074.5 2954.0 1076.3 2954.0C1078.4 2954.0 1082.8 2974.7 1085.8 2980.0C1087.9 2983.8 1091.5 2989.3 1094.5 2991.0C1097.4 2992.7 1104.6 2990.8 1107.5 2993.0C1111.7 2996.3 1115.5 3011.9 1118.3 3019.0C1121.2 3026.4 1126.1 3047.8 1128.8 3047.7C1131.9 3047.6 1137.3 3020.2 1139.9 3010.0C1142.6 2999.5 1146.5 2981.9 1148.7 2970.0C1151.4 2955.3 1154.5 2921.0 1157.6 2908.0C1159.7 2899.3 1162.8 2886.3 1166.5 2881.5C1169.3 2877.8 1176.3 2872.6 1179.8 2872.6C1183.3 2872.6 1189.8 2878.6 1193.0 2881.5C1196.3 2884.5 1201.8 2895.4 1204.0 2894.8C1208.0 2893.7 1209.2 2857.6 1210.8 2841.6C1212.9 2821.0 1214.9 2772.2 1217.4 2753.0C1219.2 2739.6 1223.0 2710.9 1225.4 2710.8C1227.3 2710.7 1231.2 2727.0 1233.0 2735.0C1235.9 2747.6 1239.5 2780.2 1241.8 2797.0C1244.2 2814.5 1248.0 2846.0 1250.7 2863.7C1253.4 2881.4 1258.8 2914.6 1261.8 2930.0C1264.1 2942.0 1267.4 2969.6 1270.6 2970.0C1273.1 2970.3 1279.2 2954.4 1281.7 2948.0C1284.4 2941.1 1288.2 2927.8 1290.0 2919.8C1292.0 2911.1 1294.3 2894.3 1295.8 2885.0C1297.3 2875.8 1300.1 2861.2 1301.6 2850.4C1303.8 2835.4 1307.5 2798.4 1309.7 2783.0C1311.4 2771.4 1314.2 2755.3 1316.0 2745.0C1317.9 2734.5 1321.5 2705.0 1323.6 2705.0C1325.7 2705.0 1329.9 2733.5 1332.0 2745.0C1334.4 2758.5 1337.5 2786.1 1340.0 2800.0C1342.3 2812.6 1346.9 2836.0 1350.0 2845.0C1352.0 2850.8 1356.1 2862.1 1358.3 2862.0C1361.0 2861.9 1365.4 2843.2 1368.0 2835.0C1371.3 2824.6 1376.1 2798.9 1380.0 2790.0C1382.5 2784.1 1387.9 2772.9 1390.6 2773.0C1393.5 2773.1 1398.9 2787.3 1401.0 2793.8C1403.6 2802.0 1405.2 2820.1 1407.0 2830.0C1408.9 2840.4 1412.4 2859.6 1414.7 2870.0C1416.9 2879.9 1422.0 2906.1 1424.0 2906.0C1426.0 2905.9 1428.4 2879.1 1430.0 2870.0C1431.5 2861.8 1433.0 2846.7 1435.7 2841.0C1437.6 2837.0 1442.8 2829.5 1445.0 2829.6C1447.1 2829.7 1450.3 2837.4 1452.0 2841.0C1454.1 2845.6 1455.7 2858.7 1458.8 2862.0C1461.2 2864.5 1468.1 2867.8 1470.4 2866.6C1473.7 2864.9 1474.5 2847.8 1476.0 2841.0C1477.5 2834.2 1480.0 2822.4 1481.5 2815.7L1482.6 3661.3Z" fill="#ffff80" stroke="none"/>
<path d="M358.6 3660.5V3596.0" fill="none" stroke="#000" stroke-width="7.0" stroke-dasharray="20.5 20 7 100" stroke-dashoffset="0.0"/>
<path d="M1481.8 3653.0V2816.0" fill="none" stroke="#000" stroke-width="7.2" stroke-dasharray="27.8 19 7 17.5 7 17" stroke-dashoffset="0.0"/>
<path d="M358.5 3594.0C361.6 3588.9 367.0 3579.7 370.0 3575.0C372.7 3570.7 377.0 3563.9 380.0 3560.0C383.1 3555.9 389.4 3549.2 393.0 3544.8C397.0 3539.9 403.3 3528.6 408.4 3525.0C413.3 3521.6 424.6 3517.2 430.0 3518.0C435.6 3518.8 444.6 3527.9 449.6 3531.8C454.5 3535.6 462.5 3545.5 466.9 3547.0C469.9 3548.0 474.8 3547.4 477.7 3546.3C481.6 3544.8 489.4 3533.4 492.9 3534.0C496.4 3534.6 501.0 3545.9 503.8 3551.5C507.5 3559.0 513.1 3578.6 516.8 3586.0C519.5 3591.4 524.7 3600.1 527.6 3602.6C529.3 3604.1 531.9 3605.6 534.0 3605.7C537.5 3605.8 546.3 3600.4 551.4 3598.3C557.6 3595.8 570.0 3590.7 577.5 3588.3C586.0 3585.6 606.0 3582.5 612.0 3579.6C615.3 3578.0 618.6 3575.2 620.8 3573.0C623.3 3570.4 626.4 3561.8 629.5 3561.0C633.1 3560.1 641.8 3569.1 646.8 3569.7C652.2 3570.3 662.3 3566.5 668.5 3564.5C676.0 3562.0 691.5 3555.6 698.8 3551.5C705.5 3547.7 716.1 3539.5 721.7 3535.4C726.7 3531.8 735.3 3526.7 739.0 3522.4C742.8 3518.0 746.0 3504.6 749.9 3502.9C753.2 3501.5 761.1 3508.0 765.0 3507.0C769.9 3505.7 778.2 3495.7 782.4 3489.9C787.7 3482.6 796.1 3463.9 799.7 3455.0C802.8 3447.2 806.3 3436.0 808.4 3426.9C811.6 3413.2 816.4 3379.2 819.0 3361.8C821.6 3344.5 824.5 3310.7 827.9 3296.8C830.3 3287.0 835.7 3275.1 838.7 3266.5C842.1 3256.8 847.6 3236.9 851.7 3227.5C855.3 3219.1 861.6 3204.3 866.9 3199.0C871.3 3194.6 882.6 3192.3 886.4 3188.4C889.9 3184.7 892.7 3175.4 895.0 3171.0C897.1 3167.0 900.8 3156.9 902.9 3157.0C905.5 3157.2 909.7 3173.8 912.4 3179.8C915.1 3185.7 919.6 3197.2 923.0 3201.4C925.6 3204.6 931.3 3210.4 934.0 3210.0C937.2 3209.5 942.1 3193.6 945.0 3193.6C947.9 3193.6 952.1 3206.9 955.8 3210.0C959.2 3212.8 968.0 3218.1 971.0 3216.6C975.3 3214.5 977.7 3194.1 979.6 3184.0C982.1 3170.4 984.3 3139.8 986.0 3123.4C987.8 3106.4 990.6 3076.3 992.6 3058.4C994.7 3039.4 998.1 2999.4 1001.3 2984.7C1003.3 2975.6 1006.9 2958.3 1010.0 2957.8C1012.4 2957.4 1018.4 2966.8 1020.8 2971.7C1024.2 2978.6 1026.8 2996.7 1029.5 3006.4C1032.5 3017.3 1038.2 3040.7 1042.5 3049.7C1045.6 3056.2 1052.8 3069.6 1055.5 3069.0C1059.3 3068.2 1062.0 3036.2 1064.0 3023.7C1066.1 3010.3 1068.5 2981.8 1070.7 2971.7C1072.0 2965.7 1074.5 2954.0 1076.3 2954.0C1078.4 2954.0 1082.8 2974.7 1085.8 2980.0C1087.9 2983.8 1091.5 2989.3 1094.5 2991.0C1097.4 2992.7 1104.6 2990.8 1107.5 2993.0C1111.7 2996.3 1115.5 3011.9 1118.3 3019.0C1121.2 3026.4 1126.1 3047.8 1128.8 3047.7C1131.9 3047.6 1137.3 3020.2 1139.9 3010.0C1142.6 2999.5 1146.5 2981.9 1148.7 2970.0C1151.4 2955.3 1154.5 2921.0 1157.6 2908.0C1159.7 2899.3 1162.8 2886.3 1166.5 2881.5C1169.3 2877.8 1176.3 2872.6 1179.8 2872.6C1183.3 2872.6 1189.8 2878.6 1193.0 2881.5C1196.3 2884.5 1201.8 2895.4 1204.0 2894.8C1208.0 2893.7 1209.2 2857.6 1210.8 2841.6C1212.9 2821.0 1214.9 2772.2 1217.4 2753.0C1219.2 2739.6 1223.0 2710.9 1225.4 2710.8C1227.3 2710.7 1231.2 2727.0 1233.0 2735.0C1235.9 2747.6 1239.5 2780.2 1241.8 2797.0C1244.2 2814.5 1248.0 2846.0 1250.7 2863.7C1253.4 2881.4 1258.8 2914.6 1261.8 2930.0C1264.1 2942.0 1267.4 2969.6 1270.6 2970.0C1273.1 2970.3 1279.2 2954.4 1281.7 2948.0C1284.4 2941.1 1288.2 2927.8 1290.0 2919.8C1292.0 2911.1 1294.3 2894.3 1295.8 2885.0C1297.3 2875.8 1300.1 2861.2 1301.6 2850.4C1303.8 2835.4 1307.5 2798.4 1309.7 2783.0C1311.4 2771.4 1314.2 2755.3 1316.0 2745.0C1317.9 2734.5 1321.5 2705.0 1323.6 2705.0C1325.7 2705.0 1329.9 2733.5 1332.0 2745.0C1334.4 2758.5 1337.5 2786.1 1340.0 2800.0C1342.3 2812.6 1346.9 2836.0 1350.0 2845.0C1352.0 2850.8 1356.1 2862.1 1358.3 2862.0C1361.0 2861.9 1365.4 2843.2 1368.0 2835.0C1371.3 2824.6 1376.1 2798.9 1380.0 2790.0C1382.5 2784.1 1387.9 2772.9 1390.6 2773.0C1393.5 2773.1 1398.9 2787.3 1401.0 2793.8C1403.6 2802.0 1405.2 2820.1 1407.0 2830.0C1408.9 2840.4 1412.4 2859.6 1414.7 2870.0C1416.9 2879.9 1422.0 2906.1 1424.0 2906.0C1426.0 2905.9 1428.4 2879.1 1430.0 2870.0C1431.5 2861.8 1433.0 2846.7 1435.7 2841.0C1437.6 2837.0 1442.8 2829.5 1445.0 2829.6C1447.1 2829.7 1450.3 2837.4 1452.0 2841.0C1454.1 2845.6 1455.7 2858.7 1458.8 2862.0C1461.2 2864.5 1468.1 2867.8 1470.4 2866.6C1473.7 2864.9 1474.5 2847.8 1476.0 2841.0C1477.5 2834.2 1480.0 2822.4 1481.5 2815.7" fill="none" stroke="#000" stroke-width="6.5" stroke-dasharray="22 14 6.5 14 6.5 14" stroke-linejoin="round"/>
<path d="M358.5 3591.6C364.9 3585.3 376.0 3574.7 382.4 3567.8C389.3 3560.3 401.6 3542.8 408.4 3537.5C413.1 3533.8 421.3 3530.2 425.7 3528.8C429.3 3527.6 435.5 3525.6 438.7 3526.6C442.5 3527.8 447.8 3537.0 451.7 3539.6C455.4 3542.1 463.1 3545.4 466.9 3546.0C470.0 3546.5 474.8 3546.4 477.7 3545.3C481.6 3543.8 489.4 3532.4 492.9 3533.0C496.4 3533.6 501.0 3544.9 503.8 3550.5C507.5 3558.0 513.1 3577.6 516.8 3585.0C519.5 3590.4 524.7 3599.1 527.6 3601.6C529.3 3603.1 531.9 3604.6 534.0 3604.7C537.5 3604.8 546.3 3599.4 551.4 3597.3C557.6 3594.8 570.0 3589.7 577.5 3587.3C586.0 3584.6 606.0 3581.5 612.0 3578.6C615.3 3577.0 618.6 3574.2 620.8 3572.0C623.3 3569.4 626.4 3560.8 629.5 3560.0C633.1 3559.1 641.8 3568.1 646.8 3568.7C652.2 3569.3 662.3 3565.5 668.5 3563.5C676.2 3561.0 692.1 3555.3 700.0 3550.4C708.6 3545.1 723.5 3532.2 730.0 3524.4C736.1 3517.1 742.0 3496.4 747.7 3494.0C751.8 3492.3 760.7 3499.7 765.0 3498.4C770.2 3496.8 778.1 3485.2 782.4 3478.9C787.6 3471.2 795.4 3453.7 799.7 3444.0C804.1 3434.0 811.8 3416.9 814.9 3405.0C818.8 3390.1 820.9 3354.6 823.6 3340.0C825.6 3329.3 828.6 3313.8 832.0 3305.5C835.1 3297.8 843.1 3285.8 847.4 3279.5C851.3 3273.8 858.5 3263.1 862.6 3260.0C865.4 3257.9 870.2 3256.2 873.4 3255.6C877.0 3254.9 885.5 3257.4 888.6 3255.6C891.9 3253.7 894.8 3243.6 897.0 3240.5C898.6 3238.3 901.4 3233.7 902.9 3234.0C905.5 3234.5 909.9 3251.8 912.4 3257.8C914.7 3263.2 918.1 3272.9 921.0 3277.0C923.5 3280.4 929.0 3287.2 932.0 3287.0C935.8 3286.7 943.4 3268.5 947.0 3268.6C950.2 3268.7 954.8 3281.6 958.0 3283.8C960.2 3285.3 964.6 3287.1 966.6 3286.0C970.6 3283.8 974.9 3263.6 977.5 3253.5C980.9 3239.9 985.1 3207.2 988.0 3192.8C990.3 3181.2 993.5 3160.2 997.0 3153.8C998.9 3150.2 1003.1 3145.1 1005.6 3145.0C1008.3 3144.8 1014.1 3150.4 1016.5 3153.8C1019.8 3158.6 1022.3 3174.2 1025.0 3179.8C1027.1 3184.0 1031.2 3192.7 1033.8 3192.8C1036.5 3192.9 1042.1 3184.7 1044.6 3179.8C1048.6 3171.9 1052.5 3147.5 1055.5 3136.4C1058.2 3126.2 1062.1 3105.2 1066.0 3099.6C1068.1 3096.6 1073.0 3092.3 1075.0 3093.0C1078.4 3094.2 1081.5 3114.8 1083.7 3123.4C1086.2 3133.1 1089.5 3153.9 1092.3 3162.4C1094.3 3168.6 1097.6 3181.1 1101.0 3182.0C1104.4 3182.9 1114.3 3173.6 1117.7 3169.5C1121.0 3165.5 1124.7 3158.2 1126.6 3151.8C1130.1 3140.5 1132.4 3106.5 1134.5 3090.0C1136.6 3073.5 1139.7 3042.4 1142.0 3028.0C1143.8 3016.8 1145.7 2996.7 1149.5 2991.0C1151.7 2987.7 1157.1 2983.7 1159.8 2984.0C1162.9 2984.4 1167.5 2994.4 1170.9 2996.7C1174.0 2998.8 1180.9 2998.6 1184.0 3001.0C1188.0 3004.2 1194.0 3021.4 1196.6 3021.0C1199.3 3020.6 1202.3 3005.3 1204.0 2996.7C1207.2 2980.6 1210.5 2930.7 1213.0 2908.0C1215.3 2887.1 1219.0 2846.7 1221.9 2832.7C1223.5 2825.0 1226.9 2810.5 1228.5 2810.6C1230.4 2810.7 1233.2 2831.8 1235.0 2841.6C1237.7 2856.0 1242.6 2891.0 1246.0 2908.0C1249.2 2924.0 1255.7 2952.8 1259.5 2965.7C1262.3 2975.3 1268.3 2996.9 1270.6 2996.7C1273.3 2996.4 1275.4 2965.1 1277.0 2952.0C1279.0 2936.1 1281.8 2903.2 1283.9 2886.0C1285.9 2869.6 1289.0 2839.0 1292.4 2826.0C1294.9 2816.7 1301.4 2806.0 1303.9 2797.0C1307.2 2785.1 1309.9 2757.3 1312.7 2744.0C1315.2 2731.9 1320.7 2701.1 1323.6 2701.0C1326.0 2700.9 1330.6 2721.2 1332.7 2730.8C1335.8 2744.9 1339.1 2779.6 1341.5 2797.0C1343.8 2813.8 1347.6 2846.7 1350.4 2859.0C1352.1 2866.6 1355.3 2881.4 1357.5 2881.5C1359.5 2881.6 1364.0 2869.9 1365.9 2863.7C1369.1 2853.5 1372.3 2825.8 1374.8 2810.6C1377.6 2793.1 1382.7 2755.1 1385.8 2739.7C1388.0 2729.0 1391.9 2706.0 1394.3 2706.0C1396.7 2706.0 1401.6 2729.4 1403.6 2739.7C1406.1 2752.9 1408.3 2781.4 1410.0 2797.0C1411.8 2813.2 1414.7 2846.5 1416.9 2859.0C1418.3 2866.7 1420.5 2881.7 1422.5 2882.0C1424.2 2882.2 1427.9 2871.5 1430.0 2868.0C1432.0 2864.6 1435.8 2855.9 1438.0 2856.0C1440.5 2856.1 1445.4 2867.3 1447.9 2872.6C1451.1 2879.5 1455.9 2896.7 1459.0 2903.6C1461.3 2908.8 1465.9 2920.1 1468.0 2920.0C1470.0 2919.9 1473.1 2908.6 1474.5 2903.6C1476.2 2897.4 1477.9 2883.9 1478.9 2877.0C1479.9 2870.4 1481.2 2859.4 1482.0 2853.0" fill="none" stroke="#ff0000" stroke-width="7.3" stroke-linejoin="round" stroke-linecap="round"/>
<path d="M358.5 3594.6C364.9 3588.3 376.0 3577.7 382.4 3570.8C389.3 3563.3 401.6 3545.8 408.4 3540.5C413.1 3536.8 421.3 3533.2 425.7 3531.8C429.3 3530.6 435.5 3528.6 438.7 3529.6C442.5 3530.8 447.8 3540.0 451.7 3542.6C455.4 3545.1 463.1 3548.4 466.9 3549.0C470.0 3549.5 474.8 3549.4 477.7 3548.3C481.6 3546.8 489.4 3535.4 492.9 3536.0C496.4 3536.6 501.0 3547.9 503.8 3553.5C507.5 3561.0 513.1 3580.6 516.8 3588.0C519.5 3593.4 524.7 3602.1 527.6 3604.6C529.3 3606.1 531.9 3607.6 534.0 3607.7C537.5 3607.8 546.3 3602.4 551.4 3600.3C557.6 3597.8 570.0 3592.7 577.5 3590.3C586.0 3587.6 606.0 3584.5 612.0 3581.6C615.3 3580.0 618.6 3577.2 620.8 3575.0C623.3 3572.4 626.4 3563.8 629.5 3563.0C633.1 3562.1 641.8 3571.1 646.8 3571.7C652.2 3572.3 662.3 3568.5 668.5 3566.5C676.0 3564.0 691.5 3557.6 698.8 3553.5C705.5 3549.7 716.1 3541.5 721.7 3537.4C726.7 3533.8 735.3 3528.7 739.0 3524.4C742.8 3520.0 746.0 3506.6 749.9 3504.9C753.2 3503.5 761.1 3510.0 765.0 3509.0C769.9 3507.7 778.1 3497.5 782.4 3491.9C787.5 3485.3 795.7 3470.1 799.7 3461.6C803.8 3452.8 809.9 3436.8 812.7 3426.9C815.8 3416.1 819.4 3395.1 821.4 3383.5C823.4 3371.9 825.8 3349.5 827.9 3340.0C829.4 3333.2 831.9 3324.1 834.4 3318.5C837.0 3312.6 843.8 3302.7 847.4 3296.8C851.3 3290.6 858.5 3277.6 862.6 3273.0C865.5 3269.7 870.2 3265.7 873.4 3264.0C876.6 3262.3 883.6 3262.2 886.4 3260.0C889.6 3257.5 892.8 3248.5 895.0 3244.8C896.8 3241.7 899.7 3234.0 901.6 3234.0C903.8 3234.0 908.1 3244.7 910.3 3249.0C912.7 3253.8 915.5 3264.8 918.9 3268.6C922.0 3272.0 930.3 3277.6 934.0 3277.0C937.9 3276.4 943.9 3262.7 947.0 3263.0C950.3 3263.4 955.0 3277.8 958.0 3281.6C960.2 3284.5 964.4 3290.3 966.6 3290.0C969.6 3289.6 975.2 3277.6 977.5 3270.8C981.4 3259.4 983.8 3227.2 986.0 3210.0C988.5 3190.5 991.8 3148.6 994.8 3132.0C996.8 3120.8 1000.5 3104.6 1003.5 3097.4C1005.7 3092.3 1010.5 3081.9 1013.0 3082.0C1015.7 3082.1 1020.5 3095.6 1023.0 3101.7C1026.2 3109.5 1030.9 3127.2 1033.8 3136.4C1036.7 3145.6 1041.6 3163.4 1044.6 3171.0C1046.8 3176.5 1051.1 3188.5 1053.3 3188.4C1055.7 3188.3 1060.0 3174.1 1062.0 3166.8C1065.1 3155.4 1067.8 3121.8 1070.7 3110.4C1072.5 3103.1 1076.2 3088.9 1078.5 3088.7C1080.3 3088.5 1083.7 3098.3 1085.8 3101.7C1087.9 3105.1 1091.5 3112.8 1094.5 3113.9C1097.3 3114.9 1104.5 3109.3 1107.5 3110.4C1111.0 3111.7 1115.6 3121.5 1118.3 3125.6C1121.0 3129.6 1125.6 3141.0 1127.9 3140.7C1131.1 3140.3 1135.4 3117.7 1137.7 3107.5C1140.6 3094.3 1143.8 3063.4 1146.5 3049.9C1148.6 3039.2 1152.0 3021.7 1155.4 3014.4C1157.8 3009.1 1162.9 3001.5 1166.5 2998.9C1169.6 2996.6 1176.8 2996.4 1179.8 2994.5C1182.6 2992.7 1185.9 2987.4 1188.6 2985.6C1191.2 2983.8 1197.4 2984.0 1199.7 2981.0C1204.4 2974.9 1204.8 2945.5 1206.4 2930.0C1208.5 2909.7 1211.2 2864.2 1213.0 2841.6C1214.7 2820.6 1217.0 2780.0 1219.7 2766.0C1221.2 2758.3 1224.6 2744.0 1226.3 2744.0C1228.2 2744.0 1231.3 2761.8 1233.0 2770.7C1235.7 2785.0 1239.2 2822.2 1241.8 2841.6C1244.5 2862.2 1249.8 2900.8 1252.9 2921.0C1255.7 2939.6 1260.7 2973.8 1264.0 2987.8C1266.2 2997.2 1270.4 3016.6 1272.8 3016.6C1275.2 3016.6 1279.4 2996.9 1281.7 2987.8C1284.9 2975.1 1289.9 2945.7 1292.8 2930.0C1295.8 2913.8 1300.8 2883.9 1303.9 2868.0C1306.7 2853.3 1311.5 2825.8 1314.9 2815.0C1317.1 2808.0 1321.5 2793.9 1323.8 2794.0C1326.3 2794.1 1330.6 2811.3 1332.7 2819.4C1335.6 2830.9 1339.2 2858.1 1341.5 2872.6C1343.9 2887.6 1347.6 2918.2 1350.4 2930.0C1352.2 2937.6 1355.6 2952.8 1357.9 2953.0C1359.8 2953.2 1364.1 2944.1 1365.9 2939.0C1369.2 2930.1 1372.3 2903.8 1374.8 2890.0C1377.6 2874.4 1382.3 2840.4 1385.8 2828.0C1388.0 2820.2 1392.4 2804.9 1394.7 2805.0C1397.2 2805.1 1401.7 2824.0 1403.6 2832.7C1406.2 2844.5 1408.3 2871.0 1410.0 2886.0C1411.9 2902.7 1414.5 2937.4 1416.9 2952.0C1418.6 2962.5 1421.8 2985.3 1424.4 2985.6C1426.2 2985.8 1430.3 2974.9 1432.4 2970.0C1435.3 2963.2 1439.9 2945.3 1443.5 2939.0C1446.1 2934.5 1451.0 2926.8 1454.5 2925.8C1457.6 2924.9 1465.0 2931.3 1467.8 2930.0C1471.4 2928.3 1474.9 2914.6 1476.7 2908.0C1478.9 2900.2 1480.6 2883.7 1482.0 2874.8" fill="none" stroke="#0000ff" stroke-width="7.3" stroke-linejoin="round" stroke-linecap="round"/>
<text transform="translate(136.28 2847.70) scale(0.9919 1)" font-size="62.5">0.004</text>
<text transform="translate(136.26 3261.70) scale(1.0005 1)" font-size="62.5">0.002</text>
<text transform="translate(136.27 3676.20) scale(0.9959 1)" font-size="62.5">0.000</text>
<text transform="translate(526.92 3742.00) scale(1.0000 1)" font-size="62.5">1</text>
<text transform="translate(1247.94 3742.00) scale(0.9580 1)" font-size="62.5">10</text>
<text transform="translate(648.63 3759.00) scale(1.0517 1)" font-size="56.5">Pore</text>
<text transform="translate(802.10 3759.00) scale(1.0464 1)" font-size="56.5">half-width</text>
<text transform="translate(1087.23 3759.00) scale(1.0485 1)" font-size="56.5">(nm)</text>
<text transform="translate(819.76 3866.30) scale(1.0557 1)" font-size="80.0">(c)</text>
<text transform="translate(95.60 3342.80) rotate(-90) scale(0.9666 1)" font-size="65.0" xml:space="preserve" style="white-space:pre">IPSD  (cm<tspan font-size="40.3" dy="-32.5">3</tspan><tspan dy="32.5">/g)</tspan></text>
<text transform="translate(380.48 2697.20) scale(1.0159 1)" font-size="61.0">AcSp</text>
<text transform="translate(377.20 2774.70) scale(1.0000 1)" font-size="61.0">1</text>
<path d="M411 2754.5H556" stroke="#000" stroke-width="6" stroke-dasharray="24.7 19.3 6 19.3 6 19.3" fill="none"/>
<text transform="translate(569.79 2774.70) scale(1.0317 1)" font-size="61.0">Initial</text>
<text transform="translate(376.80 2850.70) scale(1.0184 1)" font-size="61.0">Freezing with</text>
<text transform="translate(378.54 2930.00) scale(1.0000 1)" font-size="61.0">2</text>
<path d="M410.5 2910H556" stroke="#f00" stroke-width="7"/>
<text transform="translate(571.28 2930.00) scale(1.0126 1)" font-size="61.0">Acetone</text>
<text transform="translate(378.72 3006.00) scale(1.0000 1)" font-size="61.0">3</text>
<path d="M410.5 2986.6H556" stroke="#00f" stroke-width="7"/>
<text transform="translate(574.43 3006.00) scale(1.0037 1)" font-size="61.0">Water</text>
<text transform="translate(988.31 2934.00) scale(1.0000 1)" font-size="62.0">1</text>
<text transform="translate(1348.32 2702.40) scale(1.0000 1)" font-size="60.0">2</text>
<text transform="translate(1340.84 3010.00) scale(1.0000 1)" font-size="60.0">3</text>
</svg>
</body></html>
